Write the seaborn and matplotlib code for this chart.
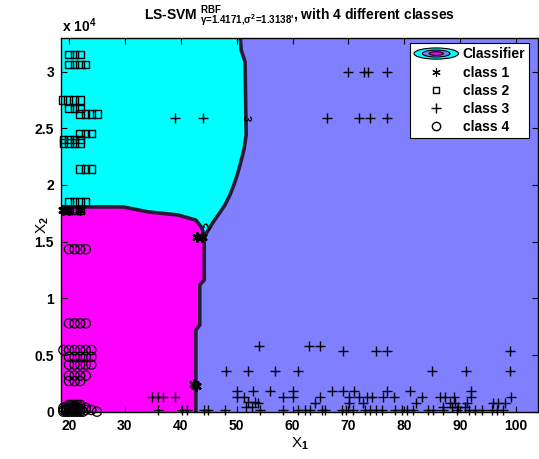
import matplotlib
matplotlib.use("Agg")
import matplotlib.pyplot as plt
from matplotlib.legend_handler import HandlerBase
from matplotlib.lines import Line2D
from matplotlib.patches import Ellipse
import seaborn as sns

# ---- data ----
# class 1 (*)
c1_x = [19.0, 20.0, 22.0, 42.9, 43.8, 42.4, 42.8]
c1_y = [17800, 17800, 17800, 15400, 15400, 2400, 2300]

# class 2 (squares)
c2_x = [20, 21, 22,
        20, 21, 22, 23,
        18.8, 19.8, 20.9, 22,
        20, 21, 22,
        22, 23, 24, 25,
        22, 23, 24,
        19, 20, 21, 22,
        19, 20, 21, 22,
        22, 23, 24,
        20, 21, 22, 23,
        20, 21, 22]
c2_y = [31500, 31500, 31500,
        30600, 30600, 30600, 30600,
        27500, 27500, 27500, 27500,
        26760, 26760, 26760,
        26260, 26260, 26260, 26260,
        24560, 24560, 24560,
        24000, 24000, 24000, 24000,
        23700, 23700, 23700, 23700,
        21400, 21400, 21400,
        18500, 18500, 18500, 18500,
        17800, 17800, 17800]

# class 3 (+)
c3_x = [69.9, 72.8, 73.5, 76.9,
        39.0, 44.0, 66.2, 71.9, 73.8, 76.9,
        54.0, 62.9, 64.9,
        69.0, 74.9, 76.9, 98.9,
        48.1, 52.0, 56.9, 61.0, 84.9, 91.0, 98.9,
        50.1, 52.9, 56.0, 60.1, 67.0, 69.0, 71.0, 76.9, 81.0, 91.9,
        34.8, 35.9, 36.9, 39.0, 50.1, 51.3, 58.3, 60.1, 64.9, 70.1, 71.9,
        73.3, 74.2, 76.2, 78.1, 83.2, 86.4, 87.3, 88.9, 91.9, 99.1,
        52.0, 53.3,
        53.8, 64.0, 70.1, 72.6, 82.1, 88.2, 89.1, 91.2, 95.8, 96.7, 98.0,
        51.7, 52.7, 86.9, 88.5, 89.6, 90.8,
        35.9, 40.2, 41.1, 44.2, 44.9, 47.9, 54.2, 58.3, 61.0, 62.2, 63.1,
        65.3, 65.8, 68.8, 69.6, 70.8, 73.0, 73.8, 74.9, 76.0, 78.3, 79.6,
        80.5, 81.6, 84.2, 85.1, 86.9, 89.4, 91.6, 92.6, 93.9, 95.7, 96.6, 97.6]
c3_y = [30000, 30000, 30000, 30000,
        25900, 25900, 25900, 25900, 25900, 25900,
        5800, 5800, 5800,
        5380, 5380, 5380, 5380,
        3590, 3590, 3590, 3590, 3590, 3590, 3590,
        1830, 1830, 1830, 1830, 1830, 1830, 1830, 1830, 1830, 1830,
        1290, 1290, 1290, 1290, 1290, 1290, 1290, 1290, 1290, 1290, 1290,
        1290, 1290, 1290, 1290, 1290, 1290, 1290, 1290, 1290, 1290,
        880, 880,
        770, 770, 770, 770, 770, 770, 770, 770, 770, 770, 770,
        440, 440, 440, 440, 440, 440,
        150, 150, 150, 150, 150, 150, 150, 150, 150, 150, 150,
        150, 150, 150, 150, 150, 150, 150, 150, 150, 150, 150,
        150, 150, 150, 150, 150, 150, 150, 150, 150, 150, 150, 150]

# class 4 (circles)
c4_x = [20, 21, 22, 23,
        20, 21, 22, 23,
        19, 20, 21, 22, 23, 24,
        20, 21, 22, 23, 24,
        20, 21, 22, 23, 24,
        20, 21, 22, 23,
        20, 21, 22,
        20, 20.5, 21, 21.5, 22,
        19, 19.5, 20, 20.5, 21, 21.5, 22, 23,
        19, 19.5, 20, 20.5, 21, 21.5, 22, 23, 24,
        19, 19.5, 20, 20.5, 21, 21.5, 22, 22.5, 25]
c4_y = [14330, 14330, 14330, 14330,
        7790, 7790, 7790, 7790,
        5440, 5440, 5440, 5440, 5440, 5440,
        4830, 4830, 4830, 4830, 4830,
        4150, 4150, 4150, 4150, 4150,
        3180, 3180, 3180, 3180,
        2700, 2700, 2700,
        600, 600, 600, 600, 600,
        350, 350, 350, 350, 350, 350, 350, 350,
        150, 150, 150, 150, 150, 150, 150, 150, 150,
        0, 0, 0, 0, 0, 0, 0, 0, 0]

# decision boundaries (classifier contour)
cb_x = [50.6, 50.8, 51.5, 51.7, 51.3, 50.6, 50.1, 49.5, 48.8, 47.9, 46.7, 45.8, 44.7, 44.2]
cb_y = [33500, 31900, 30850, 24400, 23100, 21760, 20880, 20000, 19120, 18230, 17350, 16730, 15850, 15400]
cm_x = [18.0, 29.7, 34.2, 39.5, 42.7, 43.8, 44.2]
cm_y = [18060, 18060, 17620, 17350, 16900, 16200, 15400]
mb_x = [44.2, 44.2, 44.2, 43.4, 43.4, 42.7, 42.7]
mb_y = [15400, 15000, 11620, 11170, 7640, 7200, -500]

xticks = [20, 30, 40, 50, 60, 70, 80, 90, 100]
yticks = [0, 5000, 10000, 15000, 20000, 25000, 30000]
ytick_labels = ["0", "0.5", "1", "1.5", "2", "2.5", "3"]

CYAN = "#00ffff"
MAGENTA = "#ff00ff"
BLUE = "#8080ff"
EDGE = "#2b1a35"
ASTERISK = (6, 2, 0)

plt.rcParams["font.family"] = ["Liberation Sans", "DejaVu Sans"]
plt.rcParams["font.weight"] = "bold"
plt.rcParams["mathtext.fontset"] = "custom"
plt.rcParams["mathtext.rm"] = "Liberation Sans:bold"
plt.rcParams["mathtext.it"] = "Liberation Sans:bold"
plt.rcParams["mathtext.bf"] = "Liberation Sans:bold"


class EllipseHandler(HandlerBase):
    def create_artists(self, legend, orig_handle, xdescent, ydescent,
                       width, height, fontsize, trans):
        cx = width / 2 - xdescent
        cy = height / 2 - ydescent
        arts = []
        for scale, col in [(1.0, CYAN), (0.62, BLUE), (0.32, MAGENTA)]:
            e = Ellipse((cx, cy), width * scale, height * 1.15 * scale,
                        facecolor=col, edgecolor="k", lw=0.8, transform=trans)
            arts.append(e)
        return arts


fig = plt.figure(figsize=(5.39, 4.59), dpi=100)
ax = fig.add_axes([61 / 539, 47.3 / 459, 477 / 539, 373.7 / 459])
ax.set_facecolor(BLUE)

# classifier regions
cyan_x = [cm_x[0]] + cb_x + cm_x[::-1]
cyan_y = [cb_y[0]] + cb_y + cm_y[::-1]
ax.fill(cyan_x, cyan_y, color=CYAN, lw=0)
mag_x = cm_x + mb_x + [cm_x[0]]
mag_y = cm_y + mb_y + [mb_y[-1]]
ax.fill(mag_x, mag_y, color=MAGENTA, lw=0)
for bx, by in [(cb_x, cb_y), (cm_x, cm_y), (mb_x, mb_y)]:
    ax.plot(bx, by, color=EDGE, lw=2.6, solid_joinstyle="round")

ax.text(51.6, 25900, "3", rotation=-90, fontsize=8, ha="center", va="center", color="k")
ax.text(45.0, 16300, "2", rotation=60, fontsize=8, ha="center", va="center", color="k")

# data points
kw = dict(ax=ax, legend=False, clip_on=False, zorder=3)
sns.scatterplot(x=c2_x, y=c2_y, marker="s", s=28, facecolor="none", edgecolor="k", linewidth=1.0, **kw)
sns.scatterplot(x=c4_x, y=c4_y, marker="o", s=44, facecolor="none", edgecolor="k", linewidth=0.9, **kw)
sns.scatterplot(x=c3_x, y=c3_y, marker="+", s=45, color="k", linewidth=1.0, **kw)
sns.scatterplot(x=c1_x, y=c1_y, marker=ASTERISK, s=40, color="k", linewidth=1.6, **kw)

ax.set_xlim(18.57, 103.9)
ax.set_ylim(0, 32960)
ax.set_xticks(xticks)
ax.set_xticklabels([str(t) for t in xticks])
ax.set_yticks(yticks)
ax.set_yticklabels(ytick_labels)
ax.tick_params(direction="in", length=4, width=0.8, top=True, right=True,
               labelsize=10, pad=5, colors="k")
for sp in ax.spines.values():
    sp.set_color("k")
    sp.set_linewidth(1.0)

ax.set_xlabel(r"X$_1$", fontsize=11, labelpad=2)
ax.set_ylabel(r"X$_2$", fontsize=11)
ax.yaxis.set_label_coords(-0.022, 0.5)
ax.text(0.002, 1.016, r"x 10$^4$", transform=ax.transAxes, fontsize=10,
        ha="left", va="baseline")
ax.set_title(r"LS-SVM ${}^{RBF}_{\gamma\text{=1.4171,}\sigma^2\text{=1.3138'}}$, with 4 different classes",
             fontsize=10, fontweight="bold", pad=13)

handles = [
    Line2D([], [], lw=0),
    Line2D([], [], ls="", marker=ASTERISK, color="k", markersize=6, markeredgewidth=0.8),
    Line2D([], [], ls="", marker="s", markerfacecolor="none", markeredgecolor="k", markersize=5),
    Line2D([], [], ls="", marker="+", color="k", markersize=7),
    Line2D([], [], ls="", marker="o", markerfacecolor="none", markeredgecolor="k", markersize=6),
]
labels = ["Classifier", "class 1", "class 2", "class 3", "class 4"]
leg = ax.legend(handles, labels, loc="upper right", bbox_to_anchor=(0.982, 0.986),
                borderaxespad=0, fontsize=10, handlelength=3.2, handletextpad=0.3,
                labelspacing=0.3, borderpad=0.3, fancybox=False, framealpha=1,
                edgecolor="k", handler_map={handles[0]: EllipseHandler()})
leg.get_frame().set_linewidth(0.8)

fig.savefig("out.png", dpi=100)
